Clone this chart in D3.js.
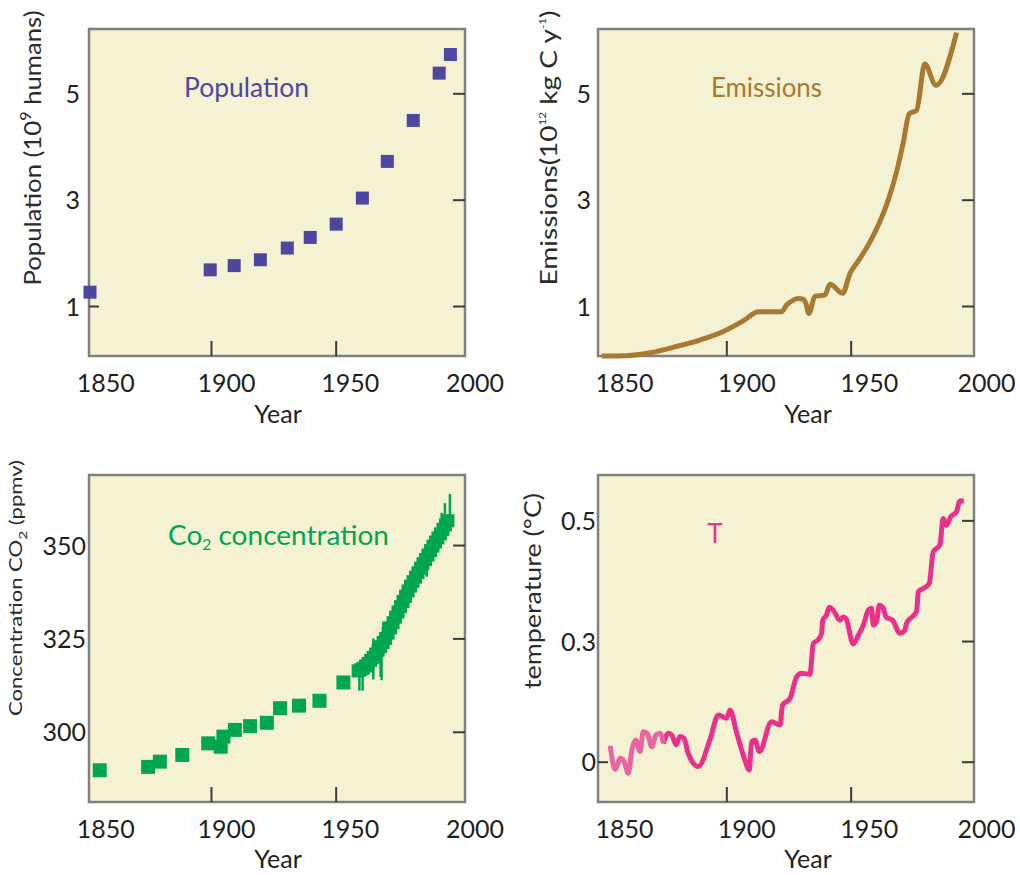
<!DOCTYPE html>
<html>
<head>
<script src="https://d3js.org/d3.v7.min.js"></script>
<style>
  body { margin: 0; background: #fff; }
</style>
</head>
<body>
<script>
// chart values
var xTickYears = [1850, 1900, 1950, 2000];
var xInnerTicks = [1900, 1950];

// population (10^9 humans)
var popYears = [1851.5, 1899.7, 1909.3, 1919.8, 1930.6, 1939.8, 1950.2, 1960.7, 1970.7, 1981.1, 1991.5, 1996.0];
var popValues = [1.26, 1.68, 1.76, 1.87, 2.09, 2.29, 2.54, 3.03, 3.72, 4.49, 5.38, 5.73];
var popTicks = [1, 3, 5];

// emissions (10^12 kg C / y)
var emisYears = [1849.9, 1859.9, 1869.3, 1880.0, 1889.4, 1898.8, 1906.8, 1912.9, 1922.2, 1924.2, 1926.9, 1928.9,
  1930.9, 1932.0, 1933.2, 1935.6, 1939.7, 1941.7, 1946.8, 1949.7, 1953.1, 1957.1, 1961.1, 1965.1, 1968.5,
  1971.1, 1973.6, 1976.5, 1979.8, 1984.3, 1992.6];
var emisValues = [0.06, 0.066, 0.12, 0.24, 0.36, 0.52, 0.72, 0.89, 0.89, 1.02, 1.11, 1.14,
  1.13, 1.05, 0.86, 1.18, 1.21, 1.41, 1.24, 1.61, 1.85, 2.15, 2.52, 2.99, 3.53,
  4.06, 4.62, 4.68, 5.55, 5.15, 6.14];
var emisTicks = [1, 3, 5];

// CO2 concentration (ppmv): ice core points, then the dense record
var co2Years = [1855.4, 1874.8, 1879.5, 1888.5, 1898.9, 1903.9, 1905.0, 1909.6, 1915.7, 1922.4, 1927.7, 1935.3, 1943.5, 1953.1];
var co2Values = [289.7, 290.6, 292.0, 293.8, 296.9, 296.0, 298.7, 300.5, 301.5, 302.4, 306.3, 307.0, 308.3, 313.2];
var co2DenseYears = [1959, 1960, 1961, 1962, 1963, 1964, 1965, 1966, 1967, 1968, 1969, 1970, 1971, 1972, 1973,
  1974, 1975, 1976, 1977, 1978, 1979, 1980, 1981, 1982, 1983, 1984, 1985, 1986, 1987, 1988, 1989, 1990,
  1991, 1992, 1993, 1994, 1995];
var co2DenseValues = [316.3, 316.6, 317.0, 317.6, 318.3, 319.1, 319.9, 320.8, 321.8, 322.8, 323.9, 325.0, 326.4,
  327.8, 329.2, 330.7, 332.1, 333.5, 334.9, 336.3, 337.7, 339.0, 340.2, 341.4, 342.6, 343.8, 345.0, 346.1,
  347.3, 348.5, 349.7, 350.8, 351.9, 353.0, 354.2, 355.4, 356.5];
var co2SpikeYears = [1959.5, 1960.8, 1965.1, 1968.0, 1968.4, 1969.1, 1971.1, 1975.1, 1979.8, 1986.5, 1992.5, 1993.8, 1995.8];
var co2SpikeLow = [311.0, 311.0, 314.0, 314.7, 313.8, 322.0, 322.8, 330.8, 334.5, 341.5, 352.0, 354.0, 355.0];
var co2SpikeHigh = [318.0, 318.0, 325.0, 322.0, 322.0, 329.5, 327.0, 333.0, 339.0, 347.0, 358.6, 361.2, 363.7];
var co2Ticks = [300, 325, 350];

// temperature anomaly (deg C)
var tempYears = [1853.3, 1855.3, 1857.3, 1858.9, 1860.6, 1862.0, 1863.6, 1865.3, 1866.6, 1868.2, 1870.0, 1871.7,
  1873.4, 1874.7, 1876.7, 1878.1, 1879.8, 1881.4, 1883.0, 1884.7, 1888.7, 1893.4, 1896.8, 1900.1, 1901.5,
  1904.2, 1907.5, 1909.2, 1910.2, 1911.5, 1913.3, 1918.2, 1921.6, 1922.6, 1925.6, 1928.3, 1930.3, 1933.6,
  1935.0, 1937.0, 1938.3, 1938.8, 1940.3, 1941.4, 1943.0, 1945.7, 1947.0, 1948.1, 1951.0, 1953.1, 1955.1,
  1957.1, 1958.4, 1959.1, 1960.4, 1961.5, 1963.1, 1964.2, 1966.9, 1969.8, 1971.8, 1972.5, 1976.5, 1977.2,
  1979.2, 1981.6, 1983.2, 1985.9, 1987.2, 1988.6, 1990.2, 1992.6, 1993.9, 1995.5];
var tempValues = [0.033, -0.016, 0.007, 0.000, -0.024, 0.024, 0.045, 0.021, 0.062, 0.059, 0.031, 0.055,
  0.059, 0.038, 0.059, 0.055, 0.035, 0.052, 0.048, 0.017, -0.010, 0.045, 0.097, 0.090, 0.107,
  0.059, 0.003, -0.017, 0.041, 0.045, 0.021, 0.083, 0.076, 0.117, 0.131, 0.176, 0.183, 0.181,
  0.245, 0.253, 0.266, 0.293, 0.304, 0.320, 0.314, 0.293, 0.300, 0.297, 0.244, 0.262, 0.283,
  0.314, 0.318, 0.283, 0.290, 0.324, 0.318, 0.300, 0.293, 0.266, 0.273, 0.287, 0.311, 0.352,
  0.359, 0.369, 0.435, 0.449, 0.504, 0.490, 0.507, 0.518, 0.540, 0.540];
var tempSplitYear = 1874.7;
var tempTicks = [0, 0.25, 0.5];
var tempTickLabels = ["0", "0.3", "0.5"];

var width = 1020, height = 875;
var font = "Lato, 'Open Sans', sans-serif";
var cream = "#f5f1d3";

var svg = d3.select("body").append("svg").attr("width", width).attr("height", height);

// draws the frame, ticks and labels of one panel and returns its scales
function panel(p) {
  var g = svg.append("g");
  var x = d3.scaleLinear().domain(p.xDomain).range([p.left, p.right]);
  var y = d3.scaleLinear().domain(p.yDomain).range([p.bottom, p.top]);

  g.append("rect").attr("x", p.left).attr("y", p.top)
    .attr("width", p.right - p.left).attr("height", p.bottom - p.top)
    .attr("fill", cream).attr("stroke", "#808080").attr("stroke-width", 2.5);

  // inner ticks on the right edge
  g.append("g").attr("transform", "translate(" + p.right + ",0)")
    .call(d3.axisLeft(y).tickValues(p.yTicks).tickSize(12).tickFormat(""))
    .call(function(a) { a.select(".domain").remove(); a.selectAll("line").attr("stroke", "#3a3a3a").attr("stroke-width", 2); });

  // one inner tick on the left edge at the lowest label
  if (p.leftTick) {
    g.append("g").attr("transform", "translate(" + p.left + ",0)")
      .call(d3.axisRight(y).tickValues([p.yTicks[0]]).tickSize(10).tickFormat(""))
      .call(function(a) { a.select(".domain").remove(); a.selectAll("line").attr("stroke", "#3a3a3a").attr("stroke-width", 2); });
  }

  // inner ticks on the bottom edge
  g.append("g").attr("transform", "translate(0," + p.bottom + ")")
    .call(d3.axisTop(x).tickValues(xInnerTicks).tickSize(15).tickFormat(""))
    .call(function(a) { a.select(".domain").remove(); a.selectAll("line").attr("stroke", "#3a3a3a").attr("stroke-width", 2); });

  // year labels (sit a bit right of their tick, as in the source)
  g.append("g").attr("transform", "translate(0," + p.bottom + ")")
    .call(d3.axisBottom(x).tickValues(xTickYears).tickSize(0).tickFormat(d3.format("d")))
    .call(function(a) {
      a.select(".domain").remove();
      a.selectAll("text").attr("y", 36).attr("dy", 0).attr("dx", function(d, i) { return p.labelDx[i]; })
        .attr("fill", "#231f20").attr("font-family", font).attr("font-size", 25);
    });

  // value labels
  g.append("g").attr("transform", "translate(" + p.left + ",0)")
    .call(d3.axisLeft(y).tickValues(p.yTicks).tickSize(0).tickPadding(p.yPad)
      .tickFormat(function(d, i) { return p.yLabels[i]; }))
    .call(function(a) {
      a.select(".domain").remove();
      a.selectAll("text").attr("dy", "0.36em")
        .attr("fill", "#231f20").attr("font-family", font).attr("font-size", 25);
    });

  g.append("text").attr("x", p.yearX).attr("y", p.yearY)
    .attr("text-anchor", "middle").attr("font-family", font).attr("font-size", 25)
    .attr("fill", "#231f20").text("Year");

  return { g: g, x: x, y: y };
}

// title along the y axis, with sub/superscripts
function yTitle(g, cx, cy, size, len, parts) {
  var t = g.append("text")
    .attr("transform", "translate(" + cx + "," + cy + ") rotate(-90)")
    .attr("text-anchor", "middle").attr("font-family", font).attr("font-size", size)
    .attr("fill", "#2b2b2b").attr("textLength", len).attr("lengthAdjust", "spacingAndGlyphs");
  parts.forEach(function(s) {
    var ts = t.append("tspan").text(s[0]);
    if (s[1]) ts.attr("font-size", s[1]).attr("dy", s[2]);
  });
}

// ---------- population ----------
var p1 = panel({ left: 89, right: 465, top: 29, bottom: 356, xDomain: [1851.1, 2001.85], yDomain: [0.06, 6.21],
  yTicks: popTicks, yLabels: popTicks.map(String), yPad: 9, labelDx: [19, 15, 14, 14], yearX: 278, yearY: 423, leftTick: true });
yTitle(p1.g, 41, 148, 24, 275, [["Population (10"], ["9", 15, -10], [" humans)", 24, 10]]);
p1.g.append("text").attr("x", 184).attr("y", 97).attr("font-family", font).attr("font-size", 27)
  .attr("fill", "#4e46a0").attr("textLength", 125).attr("lengthAdjust", "spacingAndGlyphs").text("Population");
p1.g.selectAll(".pop").data(popYears).enter().append("rect")
  .attr("x", function(d) { return p1.x(d) - 6.5; })
  .attr("y", function(d, i) { return p1.y(popValues[i]) - 6.5; })
  .attr("width", 13).attr("height", 13).attr("fill", "#4e46a0");

// ---------- emissions ----------
var p2 = panel({ left: 598, right: 974, top: 29, bottom: 356, xDomain: [1848.4, 1999.6], yDomain: [0.06, 6.21],
  yTicks: emisTicks, yLabels: emisTicks.map(String), yPad: 7, labelDx: [22, 20, 18, 11], yearX: 808, yearY: 423 });
yTitle(p2.g, 557, 148, 24, 275, [["Emissions(10"], ["12", 10, -11], [" kg C y", 24, 11], ["-1", 10, -11], [")", 24, 11]]);
p2.g.append("text").attr("x", 711).attr("y", 97).attr("font-family", font).attr("font-size", 27)
  .attr("fill", "#a87932").attr("textLength", 111).attr("lengthAdjust", "spacingAndGlyphs").text("Emissions");
var emisLine = d3.line().curve(d3.curveMonotoneX)
  .x(function(d) { return p2.x(d); })
  .y(function(d, i) { return p2.y(emisValues[i]); });
p2.g.append("path").attr("d", emisLine(emisYears)).attr("fill", "none")
  .attr("stroke", "#a87932").attr("stroke-width", 5).attr("stroke-linejoin", "round");

// ---------- CO2 ----------
var p3 = panel({ left: 89, right: 465, top: 475, bottom: 802, xDomain: [1851.1, 2001.85], yDomain: [281.2, 368.75],
  yTicks: co2Ticks, yLabels: co2Ticks.map(String), yPad: 3, labelDx: [19, 15, 14, 14], yearX: 278, yearY: 868 });
yTitle(p3.g, 22, 588, 17, 256, [["Concentration CO"], ["2", 12, 5], [" (ppmv)", 17, -5]]);
var co2Label = p3.g.append("text").attr("x", 168).attr("y", 545).attr("font-family", font).attr("font-size", 27)
  .attr("fill", "#00a650").attr("textLength", 221).attr("lengthAdjust", "spacingAndGlyphs");
co2Label.append("tspan").text("Co");
co2Label.append("tspan").attr("font-size", 15).attr("dy", 5).text("2");
co2Label.append("tspan").attr("dy", -5).text(" concentration");
p3.g.selectAll(".spike").data(co2SpikeYears).enter().append("line")
  .attr("x1", function(d) { return p3.x(d); }).attr("x2", function(d) { return p3.x(d); })
  .attr("y1", function(d, i) { return p3.y(co2SpikeLow[i]); })
  .attr("y2", function(d, i) { return p3.y(co2SpikeHigh[i]); })
  .attr("stroke", "#00a650").attr("stroke-width", 2.5);
p3.g.selectAll(".dense").data(co2DenseYears).enter().append("rect")
  .attr("x", function(d) { return p3.x(d) - 6.5; })
  .attr("y", function(d, i) { return p3.y(co2DenseValues[i]) - 6.5; })
  .attr("width", 13).attr("height", 13).attr("fill", "#00a650");
p3.g.selectAll(".core").data(co2Years).enter().append("rect")
  .attr("x", function(d) { return p3.x(d) - 7; })
  .attr("y", function(d, i) { return p3.y(co2Values[i]) - 7; })
  .attr("width", 14).attr("height", 14).attr("fill", "#00a650");

// ---------- temperature ----------
var p4 = panel({ left: 598, right: 974, top: 475, bottom: 802, xDomain: [1848.4, 1999.6], yDomain: [-0.0835, 0.594],
  yTicks: tempTicks, yLabels: tempTickLabels, yPad: 2, labelDx: [22, 20, 18, 11], yearX: 808, yearY: 868, leftTick: true });
yTitle(p4.g, 541, 591, 24, 196, [["temperature (°C)"]]);
p4.g.append("text").attr("x", 715).attr("y", 543).attr("text-anchor", "middle").attr("font-family", font)
  .attr("font-size", 26).attr("fill", "#e9318c").text("T");
var tempPts = tempYears.map(function(d, i) { return [d, tempValues[i]]; });
var tempLine = d3.line().curve(d3.curveMonotoneX)
  .x(function(d) { return p4.x(d[0]); })
  .y(function(d) { return p4.y(d[1]); });
p4.g.append("path").attr("d", tempLine(tempPts.filter(function(d) { return d[0] >= tempSplitYear; })))
  .attr("fill", "none").attr("stroke", "#e9318c").attr("stroke-width", 5).attr("stroke-linejoin", "round");
p4.g.append("path").attr("d", tempLine(tempPts.filter(function(d) { return d[0] <= tempSplitYear; })))
  .attr("fill", "none").attr("stroke", "#ea64a3").attr("stroke-width", 5).attr("stroke-linejoin", "round");
</script>
</body>
</html>
